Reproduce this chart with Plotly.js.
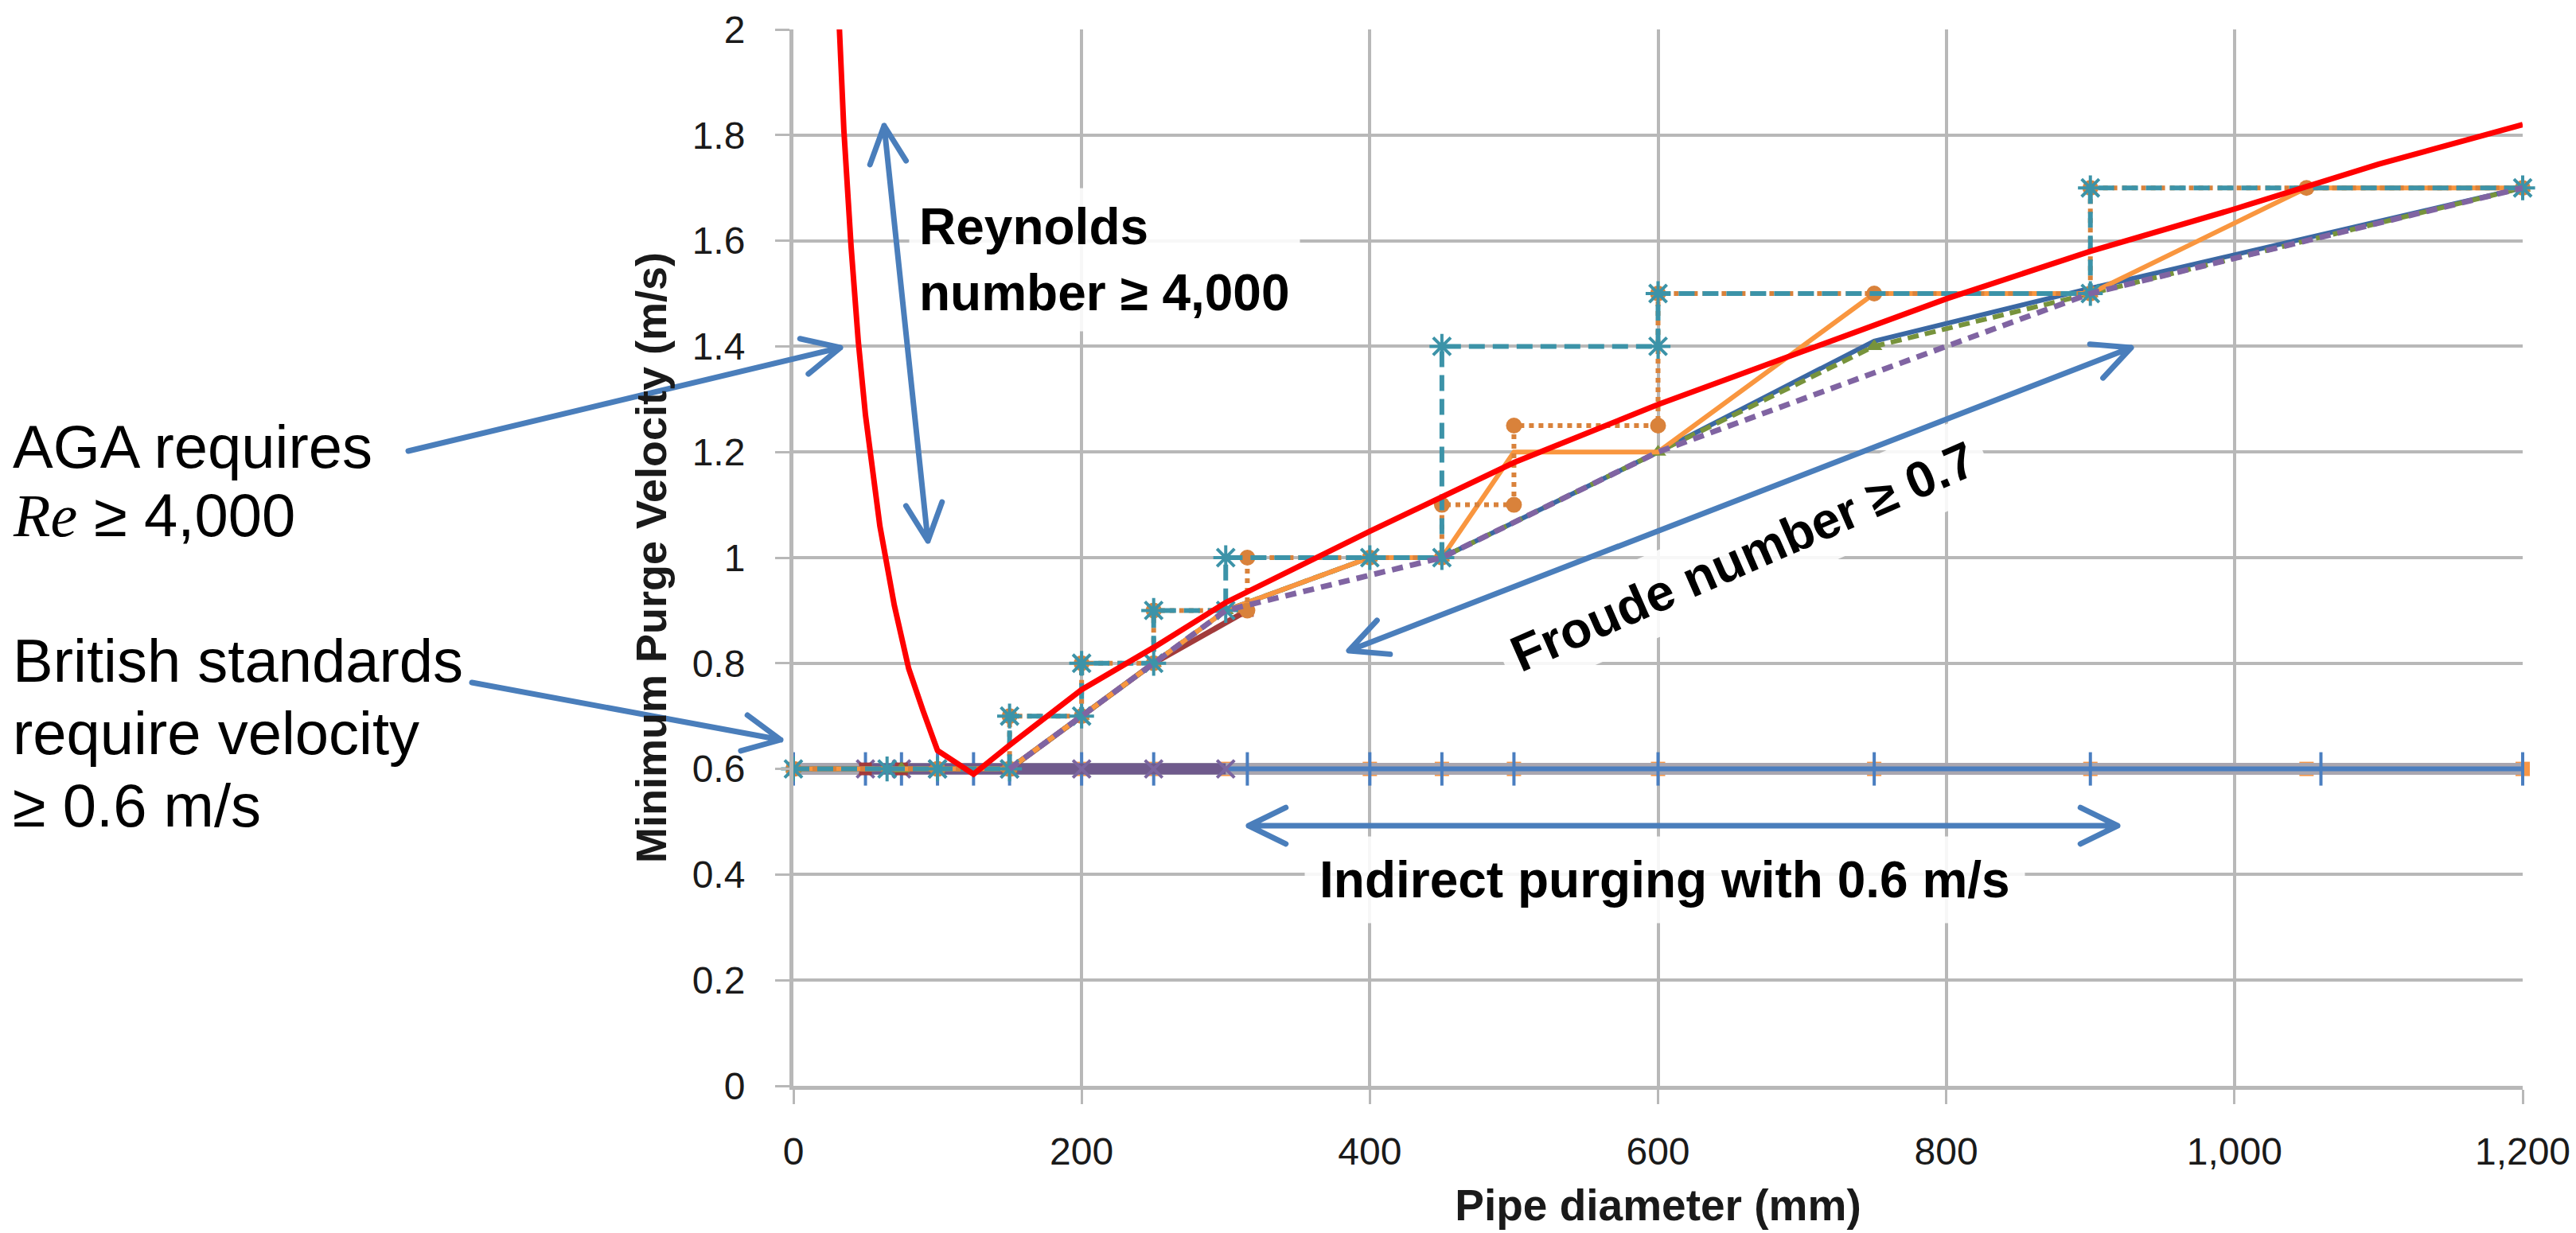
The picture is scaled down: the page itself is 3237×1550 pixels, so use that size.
<!DOCTYPE html>
<html>
<head>
<meta charset="utf-8">
<script src="https://cdn.plot.ly/plotly-3.0.1.min.js"></script>
<style>
  html, body { margin: 0; padding: 0; background: #fff; }
  #chart { width: 3237px; height: 1550px; }
  .shapelayer path { stroke-linecap: round; stroke-linejoin: round; }
</style>
</head>
<body>
<div id="chart"></div>
<script>
// ---------------- data ----------------
// AGA requirement (Reynolds >= 4,000 / Froude) – red curve
const redX = [30, 35, 40, 45, 50, 60, 70, 80, 90, 100, 125, 150, 200, 250, 300, 400, 500, 600, 700, 800, 900, 1000, 1100, 1200];
const redY = [2.12, 1.81, 1.59, 1.41, 1.27, 1.06, 0.91, 0.79, 0.71, 0.635, 0.59, 0.645, 0.75, 0.83, 0.915, 1.05, 1.18, 1.29, 1.39, 1.49, 1.58, 1.66, 1.745, 1.82];

// Stepped table (teal dashed, asterisks)
const tealX = [0, 65, 100, 150, 150, 200, 200, 250, 250, 300, 300, 400, 450, 450, 600, 600, 900, 900, 1200];
const tealY = [0.6, 0.6, 0.6, 0.6, 0.7, 0.7, 0.8, 0.8, 0.9, 0.9, 1.0, 1.0, 1.0, 1.4, 1.4, 1.5, 1.5, 1.7, 1.7];

// Stepped table (orange dotted, circles)
const orangeDotX = [0, 100, 150, 150, 200, 200, 250, 250, 315, 315, 400, 450, 450, 500, 500, 600, 600, 750, 900, 900, 1050, 1200];
const orangeDotY = [0.6, 0.6, 0.6, 0.7, 0.7, 0.8, 0.8, 0.9, 0.9, 1.0, 1.0, 1.0, 1.1, 1.1, 1.25, 1.25, 1.5, 1.5, 1.5, 1.7, 1.7, 1.7];

// Orange solid line
const orangeX = [0, 150, 200, 250, 300, 400, 450, 500, 600, 750, 900, 1050, 1200];
const orangeY = [0.6, 0.6, 0.7, 0.8, 0.9, 1.0, 1.0, 1.2, 1.2, 1.5, 1.5, 1.7, 1.7];

// Green (triangles) and dark blue lines
const greenX = [0, 75, 100, 150, 200, 250, 300, 400, 450, 600, 750, 900, 1200];
const greenY = [0.6, 0.6, 0.6, 0.6, 0.7, 0.8, 0.9, 1.0, 1.0, 1.2, 1.4, 1.5, 1.7];
const navyX = [0, 75, 100, 150, 200, 250, 300, 400, 450, 600, 750, 900, 1200];
const navyY = [0.6, 0.6, 0.6, 0.6, 0.7, 0.8, 0.9, 1.0, 1.0, 1.2, 1.41, 1.51, 1.7];

// Purple dashed line
const purpleDashX = [150, 200, 250, 300, 450, 600, 900, 1200];
const purpleDashY = [0.6, 0.7, 0.8, 0.9, 1.0, 1.2, 1.5, 1.7];

// Dark red (squares)
const darkRedX = [50, 75, 100, 150, 200, 250, 315];
const darkRedY = [0.6, 0.6, 0.6, 0.6, 0.7, 0.8, 0.9];

// 0.6 m/s lines
const purpleFlatX = [50, 75, 100, 150, 200, 250, 300];
const purpleFlatY = [0.6, 0.6, 0.6, 0.6, 0.6, 0.6, 0.6];
const greyFlatX = [0, 1200];
const greyFlatY = [0.6, 0.6];
const orangeFlatX = [0, 150, 200, 250, 300, 400, 450, 500, 600, 750, 900, 1050, 1200];
const orangeFlatY = [0.6, 0.6, 0.6, 0.6, 0.6, 0.6, 0.6, 0.6, 0.6, 0.6, 0.6, 0.6, 0.6];
const blueFlatX = [0, 50, 75, 100, 125, 150, 200, 250, 315, 400, 450, 500, 600, 750, 900, 1060, 1200];
const blueFlatY = [0.6, 0.6, 0.6, 0.6, 0.6, 0.6, 0.6, 0.6, 0.6, 0.6, 0.6, 0.6, 0.6, 0.6, 0.6, 0.6, 0.6];

// axes
const xTickVals = [0, 200, 400, 600, 800, 1000, 1200];
const yTickVals = [0, 0.2, 0.4, 0.6, 0.8, 1, 1.2, 1.4, 1.6, 1.8, 2];

// ---------------- traces ----------------
const base = { type: 'scatter', cliponaxis: false, hoverinfo: 'skip', showlegend: false };
const traces = [
  Object.assign({}, base, { x: orangeFlatX, y: orangeFlatY, mode: 'markers',
    marker: { symbol: 'square', size: 18, color: '#F79646' } }),
  Object.assign({}, base, { x: greyFlatX, y: greyFlatY, mode: 'lines',
    line: { color: '#A9A6AF', width: 15 } }),
  Object.assign({}, base, { x: blueFlatX, y: blueFlatY, mode: 'lines+markers',
    line: { color: '#4A7EC0', width: 6 },
    marker: { symbol: 'line-ns', size: 30, line: { color: '#4A7EC0', width: 4 } } }),
  Object.assign({}, base, { x: purpleFlatX, y: purpleFlatY, mode: 'lines+markers',
    line: { color: '#6F5A8C', width: 14 },
    marker: { symbol: 'x-thin', size: 22, line: { color: '#7B66A0', width: 4 } } }),
  Object.assign({}, base, { x: darkRedX, y: darkRedY, mode: 'lines+markers',
    line: { color: '#A23B3B', width: 7 },
    marker: { symbol: 'square', size: 16, color: '#A23B3B' } }),
  Object.assign({}, base, { x: navyX, y: navyY, mode: 'lines',
    line: { color: '#3B68A3', width: 6 } }),
  Object.assign({}, base, { x: greenX, y: greenY, mode: 'lines+markers',
    line: { color: '#77933C', width: 6, dash: '14px,8px' },
    marker: { symbol: 'triangle-up', size: 18, color: '#77933C' } }),
  Object.assign({}, base, { x: orangeX, y: orangeY, mode: 'lines',
    line: { color: '#F9963F', width: 6 } }),
  Object.assign({}, base, { x: orangeDotX, y: orangeDotY, mode: 'lines+markers',
    line: { color: '#D9823B', width: 6, dash: 'dot' },
    marker: { symbol: 'circle', size: 20, color: '#D9823B' } }),
  Object.assign({}, base, { x: tealX, y: tealY, mode: 'lines+markers',
    line: { color: '#3C93A8', width: 6, dash: '20px,10px' },
    marker: { symbol: 'asterisk-open', size: 26, line: { color: '#3C93A8', width: 4 } } }),
  Object.assign({}, base, { x: purpleDashX, y: purpleDashY, mode: 'lines',
    line: { color: '#8064A2', width: 7, dash: '14px,9px' } }),
  Object.assign({}, base, { x: redX, y: redY, mode: 'lines',
    line: { color: '#FF0000', width: 7 } })
];

// ---------------- annotation geometry (figure pixels -> paper) ----------------
const L = 997, R = 3170, T = 37, B = 1365;
const PX = p => (p - L) / (R - L);
const PY = p => (B - p) / (B - T);

function head(tip, from) {
  const a = Math.atan2(tip[1] - from[1], tip[0] - from[0]);
  const len = 52, sp = 26 * Math.PI / 180;
  const w1 = [tip[0] - len * Math.cos(a - sp), tip[1] - len * Math.sin(a - sp)];
  const w2 = [tip[0] - len * Math.cos(a + sp), tip[1] - len * Math.sin(a + sp)];
  return ` M${PX(w1[0])},${PY(w1[1])} L${PX(tip[0])},${PY(tip[1])} L${PX(w2[0])},${PY(w2[1])}`;
}
function arrow(p1, p2, both) {
  let d = `M${PX(p1[0])},${PY(p1[1])} L${PX(p2[0])},${PY(p2[1])}` + head(p2, p1);
  if (both) d += head(p1, p2);
  return { type: 'path', xref: 'paper', yref: 'paper', path: d, layer: 'above',
           line: { color: '#4A7EBB', width: 7 } };
}
const shapes = [
  arrow([1111, 158], [1166, 680], true),    // Reynolds
  arrow([513, 567], [1056, 437], false),    // AGA
  arrow([593, 858], [981, 930], false),     // British standards
  arrow([1695, 818], [2678, 437], true),    // Froude
  arrow([1569, 1038], [2661, 1038], true)   // Indirect purging
];

const boldFont = { family: 'Liberation Sans, Arial, sans-serif', size: 64, color: '#000' };
const normFont = { family: 'Liberation Sans, Arial, sans-serif', size: 76, color: '#000' };
function leftNote(text, yPix) {
  return { text: text, xref: 'paper', yref: 'paper', x: PX(14), y: PY(yPix),
           xanchor: 'left', yanchor: 'middle', align: 'left', showarrow: false, font: normFont };
}
const annotations = [
  { text: '<b>Reynolds<br>number ≥ 4,000</b>', xref: 'paper', yref: 'paper',
    x: PX(1142), y: PY(326), xanchor: 'left', yanchor: 'middle', align: 'left',
    showarrow: false, font: boldFont, bgcolor: 'rgba(255,255,255,0.88)', borderpad: 12 },
  { text: '<b>Froude number ≥ 0.7</b>', xref: 'paper', yref: 'paper',
    x: PX(2190), y: PY(700), xanchor: 'center', yanchor: 'middle', textangle: -23.6,
    showarrow: false, font: boldFont, bgcolor: 'rgba(255,255,255,0.88)', borderpad: 14 },
  { text: '<b>Indirect purging with 0.6 m/s</b>', xref: 'paper', yref: 'paper',
    x: PX(2092), y: PY(1106), xanchor: 'center', yanchor: 'middle',
    showarrow: false, font: boldFont, bgcolor: 'rgba(255,255,255,0.88)', borderpad: 18 },
  leftNote('AGA requires', 561),
  leftNote('<i><span style="font-family:\'Liberation Serif\'">Re</span></i> ≥ 4,000', 648),
  leftNote('British standards', 830),
  leftNote('require velocity', 921),
  leftNote('≥ 0.6 m/s', 1012)
];

const layout = {
  width: 3237, height: 1550,
  margin: { l: L, r: 3237 - R, t: T, b: 1550 - B, pad: 0 },
  paper_bgcolor: '#ffffff', plot_bgcolor: '#ffffff',
  font: { family: 'Liberation Sans, Arial, sans-serif', size: 48, color: '#1a1a1a' },
  showlegend: false,
  hovermode: false,
  xaxis: {
    range: [0, 1200], tickvals: xTickVals, tickformat: ',d',
    showgrid: true, gridcolor: '#B8B8B8', gridwidth: 4,
    showline: true, linecolor: '#B8B8B8', linewidth: 5, zeroline: false,
    ticks: 'outside', ticklen: 18, tickwidth: 3, tickcolor: '#B8B8B8',
    ticklabelstandoff: 18,
    tickfont: { size: 48, color: '#1a1a1a' },
    title: { text: '<b>Pipe diameter (mm)</b>', font: { size: 55, color: '#1a1a1a' }, standoff: 24 }
  },
  yaxis: {
    range: [0, 2], tickvals: yTickVals,
    showgrid: true, gridcolor: '#B8B8B8', gridwidth: 4,
    showline: true, linecolor: '#B8B8B8', linewidth: 5, zeroline: false,
    ticks: 'outside', ticklen: 18, tickwidth: 3, tickcolor: '#B8B8B8',
    ticklabelstandoff: 28,
    tickfont: { size: 48, color: '#1a1a1a' },
    title: { text: '<b>Minimum Purge Velocity (m/s)</b>', font: { size: 54, color: '#1a1a1a' }, standoff: 16 }
  },
  shapes: shapes,
  annotations: annotations
};

Plotly.newPlot('chart', traces, layout, { staticPlot: true, displayModeBar: false });
</script>
</body>
</html>
